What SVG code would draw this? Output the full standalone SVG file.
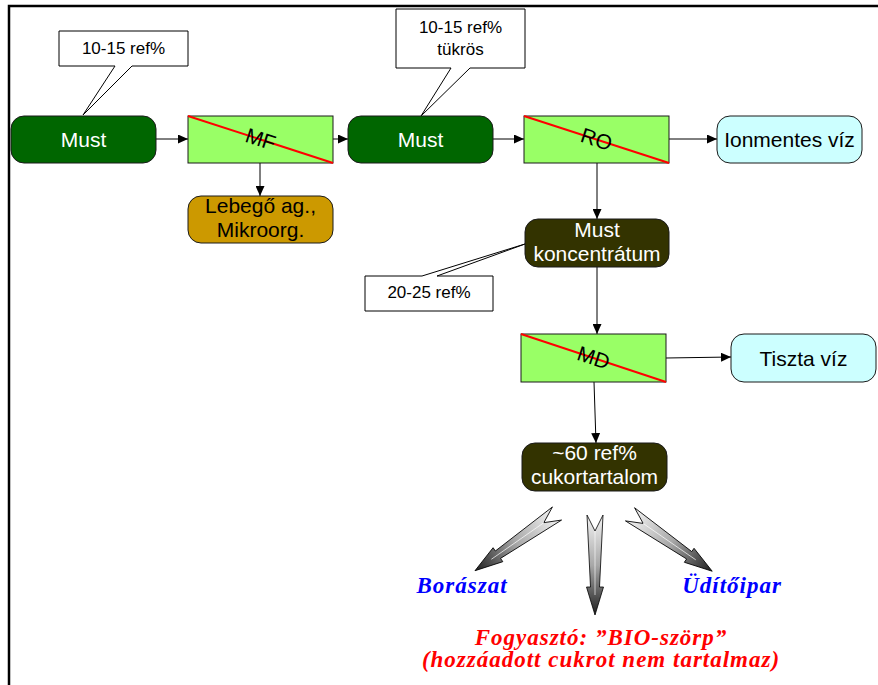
<svg xmlns="http://www.w3.org/2000/svg" width="878" height="685" viewBox="0 0 878 685">
<style>
.node{stroke:#1a1a1a;stroke-width:1}
.rr{stroke:#1a1a1a;stroke-width:1}
.t{font-family:"Liberation Sans",Arial,sans-serif;font-size:21px;text-anchor:middle}
.w{fill:#ffffff}
.k{fill:#000000}
.ct{font-family:"Liberation Sans",Arial,sans-serif;font-size:17px;text-anchor:middle;fill:#000}
.cut{stroke:#ff0000;stroke-width:2}
.conn{stroke:#000;stroke-width:1;fill:none}
.big{font-family:"Liberation Serif","Times New Roman",serif;font-weight:bold;font-style:italic;font-size:23px;letter-spacing:1px;text-anchor:middle}
.bl{fill:#0000ff}
.rd{fill:#ff0000}
.arr3d{stroke:#000;stroke-width:0.8;fill:url(#g3d)}
</style>
<defs>
<marker id="ah" markerUnits="userSpaceOnUse" markerWidth="11" markerHeight="9" refX="10" refY="4.5" orient="auto">
<path d="M0,0 L10,4.5 L0,9 Z" fill="#000"/>
</marker>
<linearGradient id="g3d" x1="0" y1="0" x2="1" y2="0">
<stop offset="0" stop-color="#f4f4f4"/>
<stop offset="0.5" stop-color="#a8a8a8"/>
<stop offset="1" stop-color="#1e1e1e"/>
</linearGradient>
<path id="bigarrow" d="M0,-8 L72,-4.5 L72,-8.5 L100,0 L72,8.5 L72,4.5 L0,8 L16,0 Z"/>
</defs>
<rect x="0" y="0" width="878" height="685" fill="#ffffff"/>
<path d="M9,685 V6 H878" fill="none" stroke="#000" stroke-width="2.5"/>

<g id="connectors">
<line class="conn" x1="156" y1="139" x2="188" y2="139" marker-end="url(#ah)"/>
<line class="conn" x1="260" y1="163" x2="260" y2="196" marker-end="url(#ah)"/>
<line class="conn" x1="333" y1="139" x2="348" y2="139" marker-end="url(#ah)"/>
<line class="conn" x1="493" y1="139" x2="524" y2="139" marker-end="url(#ah)"/>
<line class="conn" x1="669" y1="139" x2="717" y2="139" marker-end="url(#ah)"/>
<line class="conn" x1="597" y1="163" x2="597" y2="219" marker-end="url(#ah)"/>
<line class="conn" x1="597" y1="267" x2="597" y2="334" marker-end="url(#ah)"/>
<line class="conn" x1="666" y1="358" x2="731" y2="357" marker-end="url(#ah)"/>
<line class="conn" x1="594" y1="382" x2="596" y2="443" marker-end="url(#ah)"/>
<g transform="translate(557,513.5) rotate(145.1)">
<use href="#bigarrow" class="arr3d"/>
<line x1="16" y1="0" x2="80" y2="0" stroke="#ffffff" stroke-width="0.8" opacity="0.8"/>
</g>
<g transform="translate(595,515) rotate(90)">
<use href="#bigarrow" class="arr3d"/>
<line x1="16" y1="0" x2="80" y2="0" stroke="#ffffff" stroke-width="0.8" opacity="0.8"/>
</g>
<g transform="translate(630,514.3) rotate(34.7)">
<use href="#bigarrow" class="arr3d"/>
<line x1="16" y1="0" x2="80" y2="0" stroke="#ffffff" stroke-width="0.8" opacity="0.8"/>
</g>
</g>

<g id="callout1">
<path d="M59,31 H188 V66 H132 L83,115 L115,66 H59 Z" fill="#fff" stroke="#000" stroke-width="1"/>
<text class="ct" x="123.5" y="54">10-15 ref%</text>
</g>
<g id="callout2">
<path d="M396,9 H525 V68 H470 L421,116 L451,68 H396 Z" fill="#fff" stroke="#000" stroke-width="1"/>
<text class="ct" x="460.5" y="33">10-15 ref%</text>
<text class="ct" x="460.5" y="55">tükrös</text>
</g>
<g id="callout3">
<path d="M365,276 H422 L525,244 L437,276 H493 V311 H365 Z" fill="#fff" stroke="#000" stroke-width="1"/>
<text class="ct" x="429" y="298">20-25 ref%</text>
</g>

<g id="must1">
<rect class="rr" x="11" y="116" width="145" height="47" rx="13" fill="#006600"/>
<text class="t w" x="83.5" y="147">Must</text>
</g>
<g id="mf">
<rect class="node" x="188" y="116" width="145" height="47" fill="#99ff66"/>
<line class="cut" x1="188" y1="116" x2="333" y2="163"/>
<text class="t k" x="260.5" y="146.5" transform="rotate(18 260.5 139.5)">MF</text>
</g>
<g id="lebego">
<rect class="rr" x="188" y="196" width="145" height="47" rx="13" fill="#cc9900"/>
<text class="t k" x="260.5" y="213">Lebegő ag.,</text>
<text class="t k" x="260.5" y="237">Mikroorg.</text>
</g>
<g id="must2">
<rect class="rr" x="348" y="116" width="145" height="47" rx="13" fill="#006600"/>
<text class="t w" x="420.5" y="147">Must</text>
</g>
<g id="ro">
<rect class="node" x="524" y="116" width="145" height="47" fill="#99ff66"/>
<line class="cut" x1="524" y1="116" x2="669" y2="163"/>
<text class="t k" x="596.5" y="146.5" transform="rotate(18 596.5 139.5)">RO</text>
</g>
<g id="ionmentes">
<rect class="rr" x="717" y="116" width="145" height="47" rx="13" fill="#ccffff"/>
<text class="t k" x="789.5" y="147">Ionmentes víz</text>
</g>
<g id="koncentratum">
<rect class="rr" x="525" y="219" width="144" height="48" rx="13" fill="#333300"/>
<text class="t w" x="597" y="237">Must</text>
<text class="t w" x="597" y="261">koncentrátum</text>
</g>
<g id="md">
<rect class="node" x="521" y="334" width="145" height="48" fill="#99ff66"/>
<line class="cut" x1="521" y1="334" x2="666" y2="382"/>
<text class="t k" x="593.5" y="365" transform="rotate(18 593.5 358)">MD</text>
</g>
<g id="tiszta">
<rect class="rr" x="731" y="334" width="145" height="48" rx="13" fill="#ccffff"/>
<text class="t k" x="803.5" y="365.5">Tiszta víz</text>
</g>
<g id="cukor">
<rect class="rr" x="522" y="443" width="145" height="48" rx="13" fill="#333300"/>
<text class="t w" x="594.5" y="460">~60 ref%</text>
<text class="t w" x="594.5" y="484">cukortartalom</text>
</g>

<g id="boraszat">
<text class="big bl" x="462" y="593">Borászat</text>
</g>
<g id="uditoipar">
<text class="big bl" x="732" y="593">Üdítőipar</text>
</g>
<g id="fogyaszto">
<text class="big rd" x="601" y="645">Fogyasztó: ”BIO-szörp”</text>
<text class="big rd" x="601" y="667">(hozzáadott cukrot nem tartalmaz)</text>
</g>
</svg>
